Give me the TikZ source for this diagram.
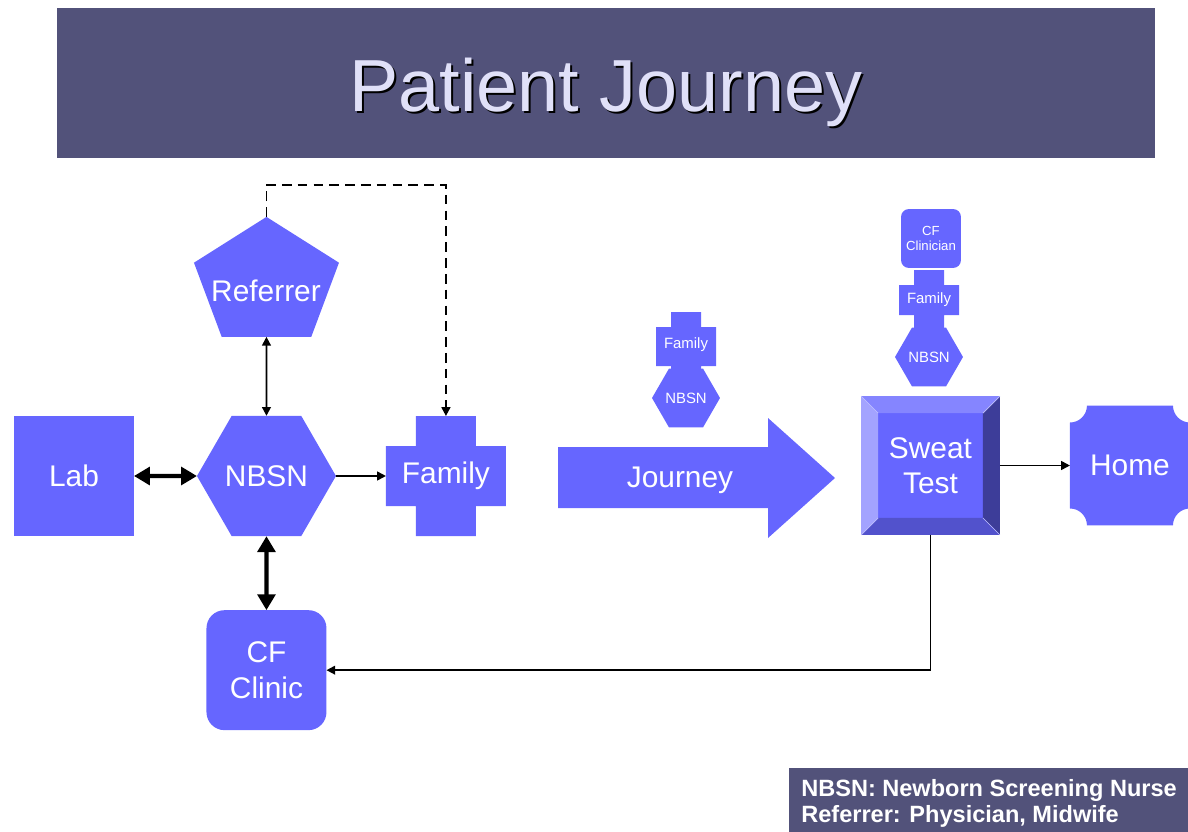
\documentclass[tikz,border=0pt]{standalone}
\usepackage{fontspec}
\setmainfont{Liberation Sans}
\usetikzlibrary{shapes.geometric, arrows.meta, positioning, backgrounds, calc}

\definecolor{slate}{HTML}{52527A}
\definecolor{boxblue}{HTML}{6666FF}
\definecolor{titletext}{HTML}{E0E0F8}
\definecolor{beveltop}{HTML}{8585FF}
\definecolor{bevellight}{HTML}{A3A3FF}
\definecolor{bevelbottom}{HTML}{5252CC}
\definecolor{beveldark}{HTML}{3D3D99}

% plus shape: centre, half width, half height, arm inset (all in px)
\newcommand{\plusfill}[4]{%
  \fill[boxblue] (#1) ++(-#2+#4,-#3) -- ++(2*#2-2*#4,0) -- ++(0,#4) -- ++(#4,0)
    -- ++(0,2*#3-2*#4) -- ++(-#4,0) -- ++(0,#4) -- ++(-2*#2+2*#4,0)
    -- ++(0,-#4) -- ++(-#4,0) -- ++(0,-2*#3+2*#4) -- ++(#4,0) -- cycle;}

\begin{document}
\begin{tikzpicture}[x=0.02cm, y=-0.02cm,
    font=\fontsize{17}{20}\selectfont,
    fillbox/.style={fill=boxblue, text=white, inner sep=0pt, outer sep=0pt, align=center},
    squarebox/.style={fillbox, rectangle, minimum width=2.4cm, minimum height=2.4cm},
    roundbox/.style={squarebox, rounded corners=0.36cm},
    hexbox/.style={fillbox, regular polygon, regular polygon sides=6, minimum size=#1},
    pentbox/.style={fillbox, regular polygon, regular polygon sides=5, minimum size=2.652cm, xscale=1.15, transform shape},
    openbox/.style={text=white, inner sep=0pt, outer sep=0pt, align=center, minimum width=#1, minimum height=#1},
    smalltext/.style={font=\fontsize{8.5}{10}\selectfont},
    bigboth/.style={{Triangle[length=9pt,width=10pt]}-{Triangle[length=9pt,width=10pt]}, line width=2.4pt},
    thinboth/.style={{Triangle[length=5pt,width=5pt]}-{Triangle[length=5pt,width=5pt]}, line width=1pt},
    thinarrow/.style={-{Triangle[length=5pt,width=5pt]}, line width=1pt},
    dashedarrow/.style={thinarrow, dash pattern=on 5.5pt off 3.5pt, line width=1.1pt}]
    \useasboundingbox (0,0) rectangle (1188,832);

    % title
    \node [fill=slate, minimum width=21.96cm, minimum height=3cm, inner sep=0pt] (titlebar) at (606,83) {};
    \node [font=\fontsize{42}{48}\selectfont, text=black] (title-shadow) at (608,94) {Patient Journey};
    \node [font=\fontsize{42}{48}\selectfont, text=titletext] (title) at (606,92) {Patient Journey};

    % left part
    \node [squarebox] (lab) at (74,476) {Lab};
    \node [hexbox=2.78cm, right=1.26cm of lab] (nbsn) {NBSN};
    \node [openbox=2.4cm, right=1cm of nbsn] (family) {Family};
    \node [pentbox, above=1.58cm of nbsn] (referrer) {};
    \node [text=white] (referrer-text) at (266,291) {Referrer};
    \node [roundbox, below=1.48cm of nbsn] (cfclinic) {CF\\Clinic};

    % journey
    \node [text=white] (journey) at (680,480) {Journey};
    \node [openbox, smalltext, minimum width=1.2cm, minimum height=1.38cm] (family-a) at (686,345) {Family};
    \node [hexbox=1.36cm, smalltext] (nbsn-a) at (686,398) {NBSN};

    % right part
    \node [openbox=2.78cm] (sweat) at (930.5,465.5) {Sweat\\Test};
    \node [openbox=2.4cm, right=1.4cm of sweat] (home) {Home};
    \node [fillbox, rectangle, rounded corners=0.16cm, minimum width=1.2cm, minimum height=1.18cm,
           font=\fontsize{7.5}{9}\selectfont] (clinician) at (931,238.5) {CF\\Clinician};
    \node [openbox=1.2cm, smalltext] (family-b) at (929,300) {Family};
    \node [hexbox=1.36cm, smalltext] (nbsn-b) at (929,357) {NBSN};

    \begin{scope}[on background layer]
        \plusfill{family.center}{60}{60}{30}
        \plusfill{686,346.5}{30}{34.5}{15}
        \plusfill{family-b.center}{30}{30}{15}
        \fill[boxblue] (558,447) -- (768,447) -- (768,418) -- (835,478)
            -- (768,538) -- (768,508) -- (558,508) -- cycle;
        % bevel of the sweat test
        \coordinate (in-nw) at ($(sweat.north west)+(17,17)$);
        \coordinate (in-ne) at ($(sweat.north east)+(-17,17)$);
        \coordinate (in-sw) at ($(sweat.south west)+(17,-17)$);
        \coordinate (in-se) at ($(sweat.south east)+(-17,-17)$);
        \fill[boxblue] (sweat.north west) rectangle (sweat.south east);
        \fill[beveltop] (sweat.north west) -- (sweat.north east) -- (in-ne) -- (in-nw) -- cycle;
        \fill[bevellight] (sweat.north west) -- (in-nw) -- (in-sw) -- (sweat.south west) -- cycle;
        \fill[beveldark] (sweat.north east) -- (sweat.south east) -- (in-se) -- (in-ne) -- cycle;
        \fill[bevelbottom] (sweat.south west) -- (in-sw) -- (in-se) -- (sweat.south east) -- cycle;
        \draw[white!60!boxblue, line width=0.4pt] (sweat.north west) -- (in-nw) (sweat.north east) -- (in-ne)
            (sweat.south west) -- (in-sw) (sweat.south east) -- (in-se);
        % home plaque
        \fill[boxblue] ([xshift=0.34cm]home.north west) -- ([xshift=-0.34cm]home.north east)
            arc[start angle=180, end angle=270, radius=0.34cm] -- ([yshift=0.34cm]home.south east)
            arc[start angle=90, end angle=180, radius=0.34cm] -- ([xshift=0.34cm]home.south west)
            arc[start angle=0, end angle=90, radius=0.34cm] -- ([yshift=-0.34cm]home.north west)
            arc[start angle=-90, end angle=0, radius=0.34cm] -- cycle;
    \end{scope}

    \draw[bigboth] (lab) -- (nbsn);
    \draw[bigboth] (nbsn) -- (cfclinic);
    \draw[thinboth] (referrer) -- (nbsn);
    \draw[thinarrow] (nbsn) -- (family);
    \draw[dashedarrow] (referrer.north) -- ++(0,-32) -| (family.north);
    \draw[thinarrow] (sweat) -- (home);
    \draw[thinarrow] (sweat.south) |- (cfclinic.east);

    % legend
    \node [fill=slate, text=white, font=\fontsize{13.4}{14.8}\selectfont\bfseries, align=left,
           anchor=north west, minimum height=1.4cm, inner xsep=0.24cm, inner ysep=0pt] (legend)
           at (789,768) {NBSN: Newborn Screening Nurse\\Referrer: Physician, Midwife};
\end{tikzpicture}
\end{document}
